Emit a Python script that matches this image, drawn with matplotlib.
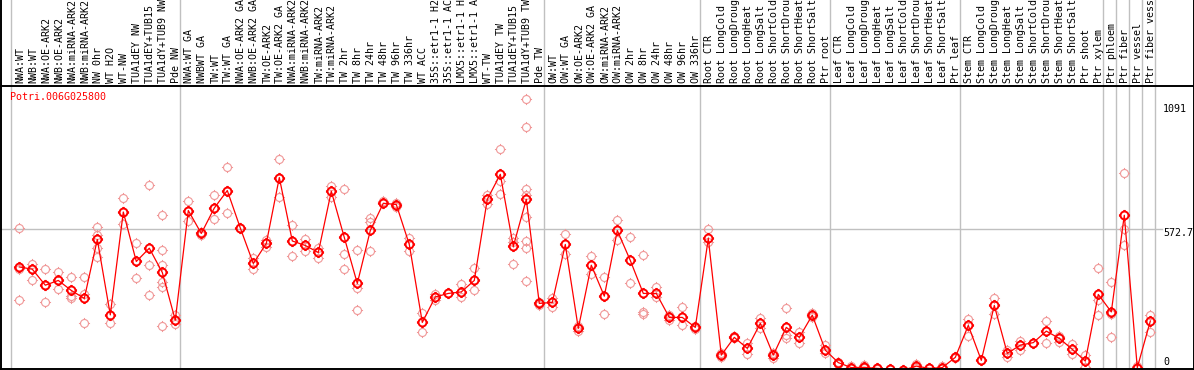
import numpy as np
import matplotlib.pyplot as plt
from matplotlib.path import Path
from matplotlib.lines import Line2D
from matplotlib.transforms import blended_transform_factory

gene = 'Potri.006G025800'

samples = [
    'NWA:WT', 'NWB:WT', 'NWA:OE-ARK2', 'NWB:OE-ARK2', 'NWA:miRNA-ARK2', 'NWB:miRNA-ARK2',
    'NW 0hr', 'WT H2O', 'WT-NW', 'TUA1dEY NW', 'TUA1dEY+TUB15 NW', 'TUA1dY+TUB9 NW', 'Pde NW',
    'NWA:WT GA', 'NWBWT GA', 'TW:WT', 'TW:WT GA', 'NWA:OE-ARK2 GA', 'NWB:OE-ARK2 GA',
    'TW:OE-ARK2', 'TW:OE-ARK2 GA', 'NWA:miRNA-ARK2 GA', 'NWB:miRNA-ARK2 GA', 'TW:miRNA-ARK2',
    'TW:miRNA-ARK2 GA', 'TW 2hr', 'TW 8hr', 'TW 24hr', 'TW 48hr', 'TW 96hr', 'TW 336hr',
    'WT ACC', '35S::etr1-1 H2O', '35S::etr1-1 ACC', 'LMX5::etr1-1 H2O', 'LMX5::etr1-1 ACC',
    'WT-TW', 'TUA1dEY TW', 'TUA1dEY+TUB15 TW', 'TUA1dY+TUB9 TW', 'Pde TW',
    'OW:WT', 'OW:WT GA', 'OW:OE-ARK2', 'OW:OE-ARK2 GA', 'OW:miRNA-ARK2', 'OW:miRNA-ARK2 GA',
    'OW 2hr', 'OW 8hr', 'OW 24hr', 'OW 48hr', 'OW 96hr', 'OW 336hr',
    'Root CTR', 'Root LongCold', 'Root LongDrought', 'Root LongHeat', 'Root LongSalt',
    'Root ShortCold', 'Root ShortDrought', 'Root ShortHeat', 'Root ShortSalt', 'Ptr root',
    'Leaf CTR', 'Leaf LongCold', 'Leaf LongDrought', 'Leaf LongHeat', 'Leaf LongSalt',
    'Leaf ShortCold', 'Leaf ShortDrought', 'Leaf ShortHeat', 'Leaf ShortSalt', 'Ptr leaf',
    'Stem CTR', 'Stem LongCold', 'Stem LongDrought', 'Stem LongHeat', 'Stem LongSalt',
    'Stem ShortCold', 'Stem ShortDrought', 'Stem ShortHeat', 'Stem ShortSalt', 'Ptr shoot',
    'Ptr xylem', 'Ptr phloem', 'Ptr fiber', 'Ptr vessel', 'Ptr fiber vessel',
]

means = [
    419, 410, 346, 365, 325, 293, 529, 227, 639, 441, 494, 397, 206,
    645, 553, 655, 725, 575, 433, 513, 777, 523, 505, 477, 722, 537, 353, 565, 674, 669,
    509, 197, 299, 313, 319, 365, 690, 790, 501, 690, 273,
    277, 509, 173, 426, 302, 565, 445, 313, 313, 217, 217, 177,
    533, 66, 137, 93, 193, 66, 177, 137, 226, 86,
    36, 16, 17, 13, 10, 6, 22, 13, 16, 57,
    185, 45, 265, 73, 106, 116, 162, 133, 89, 42,
    309, 239, 626, 16, 202,
]

reps = [
    [573, 409, 286], [430, 410, 365], [409, 346, 277], [397, 365, 329], [377, 303, 293],
    [377, 310, 194], [577, 546, 494, 457], [269, 227, 194], [694, 639, 589], [513, 441, 373],
    [746, 425, 306], [629, 486, 425, 358, 339, 181], [226, 206, 189],
    [685, 645, 603], [559, 546], [709, 655, 613], [818, 725, 637], [575, 575], [455, 409],
    [526, 497], [852, 777, 698], [586, 461], [530, 481], [495, 455], [743, 701],
    [733, 469, 410], [485, 333, 245], [615, 599, 482], [685, 674], [677, 658],
    [533, 483], [235, 159], [310, 287], [313], [349, 297], [413, 325], [706, 671],
    [892, 763, 713], [535, 519, 429], [1091, 980, 733, 709, 619, 522, 493, 362], [279, 266],
    [293, 259], [549, 469], [183, 162], [461, 389], [377, 229], [609, 525], [537, 353],
    [465, 239, 231], [338, 298], [226, 205], [257, 186], [183, 170],
    [569, 517], [73, 60], [141, 133], [113, 69], [214, 173], [73, 53], [254, 146, 133],
    [159, 113], [233, 219], [106, 73],
    [40, 29], [22, 13], [26, 13], [15, 11], [10], [6], [29, 16], [13], [22, 13], [58, 56],
    [209, 143], [45], [293, 229], [86, 60], [122, 86], [116], [201, 113], [143, 117],
    [110, 69], [66, 20],
    [414, 286, 226], [357, 229, 137], [795, 569, 506], [22, 13], [226, 157],
]

group_starts = [0, 13, 41, 53, 63, 73, 84, 85, 86, 87, 88]
yticks = [0, 572.7, 1091]

W, H = 1194, 370
RED = '#ff0000'
PINK = '#f09898'
GRID = '#c0c0c0'
MONO = 'DejaVu Sans Mono'


def ring_marker():
    # circle with four small ticks sticking out
    parts = [Path.unit_circle()]
    for dx, dy in [(0, 1), (0, -1), (1, 0), (-1, 0)]:
        parts.append(Path([[dx, dy], [1.4 * dx, 1.4 * dy]], [Path.MOVETO, Path.LINETO]))
    return Path.make_compound_path(*parts)


def main():
    fig = plt.figure(figsize=(W / 100, H / 100), dpi=100)
    top_px, bot_px = 85.5, 371.6
    ax = fig.add_axes([0.5 / W, (H - bot_px) / H, 1193 / W, (bot_px - top_px) / H])

    x0, step = 19.3, 13.0
    ax.set_xlim(-(x0 - 0.5) / step, (1193.5 - x0) / step)
    ymax = 1.05 * max(max(r) for r in reps)
    ax.set_ylim(0, ymax)
    ax.set_xticks([])
    ax.set_yticks([])
    for side in ['left', 'right', 'bottom']:
        ax.spines[side].set_visible(False)
    ax.spines['top'].set_linewidth(1.4)

    # group separators, running up through the header
    ext = bot_px / (bot_px - top_px)
    for g in group_starts:
        ax.axvline(g - 0.62, ymin=0, ymax=ext, color=GRID, lw=1.0, clip_on=False, zorder=1)

    ax.axhline(yticks[1], xmin=0, xmax=(1162 - 0.5) / 1193, color=GRID, lw=1.0, zorder=1)

    mk = ring_marker()
    xs = np.arange(len(samples))
    for i, r in enumerate(reps):
        ax.plot([i] * len(r), r, ls='none', marker=mk, ms=8, mec=PINK, mfc='none',
                mew=0.8, zorder=2)
    ax.plot(xs, means, color=RED, lw=0.9, zorder=3)
    ax.plot(xs, means, ls='none', marker=mk, ms=8, mec=RED, mfc='none', mew=1.4, zorder=4)

    # y labels on the right, inside the frame
    offsets = [10, -4, -10]
    for v, off in zip(yticks, offsets):
        ax.annotate(f'{v:g}', xy=((1163 - 0.5) / 1193, v), xycoords=('axes fraction', 'data'),
                    xytext=(0, off), textcoords='offset pixels', ha='left', va='center',
                    family=MONO, fontsize=7.2, color='black', annotation_clip=False)

    # rotated sample names in the header
    trans = blended_transform_factory(ax.transData, fig.transFigure)
    for i, name in enumerate(samples):
        ax.text(i + 0.08, (H - 83) / H, name, transform=trans, rotation=90, ha='center',
                va='bottom', family=MONO, fontsize=7.2, color='black', clip_on=False)

    fig.text(10 / W, 1 - 97 / H, gene, color=RED, ha='left', va='center', family=MONO,
             fontsize=7.2)

    # outer frame
    fig.add_artist(Line2D([0.5 / W, 0.5 / W], [0, 1], color='black', lw=1.4))
    fig.add_artist(Line2D([1193.5 / W, 1193.5 / W], [0, 1], color='black', lw=1.4))
    fig.add_artist(Line2D([0, 1193.5 / W], [1 - 369 / H, 1 - 369 / H], color='black', lw=1.4))

    fig.savefig('out.png', dpi=100)


if __name__ == '__main__':
    main()
